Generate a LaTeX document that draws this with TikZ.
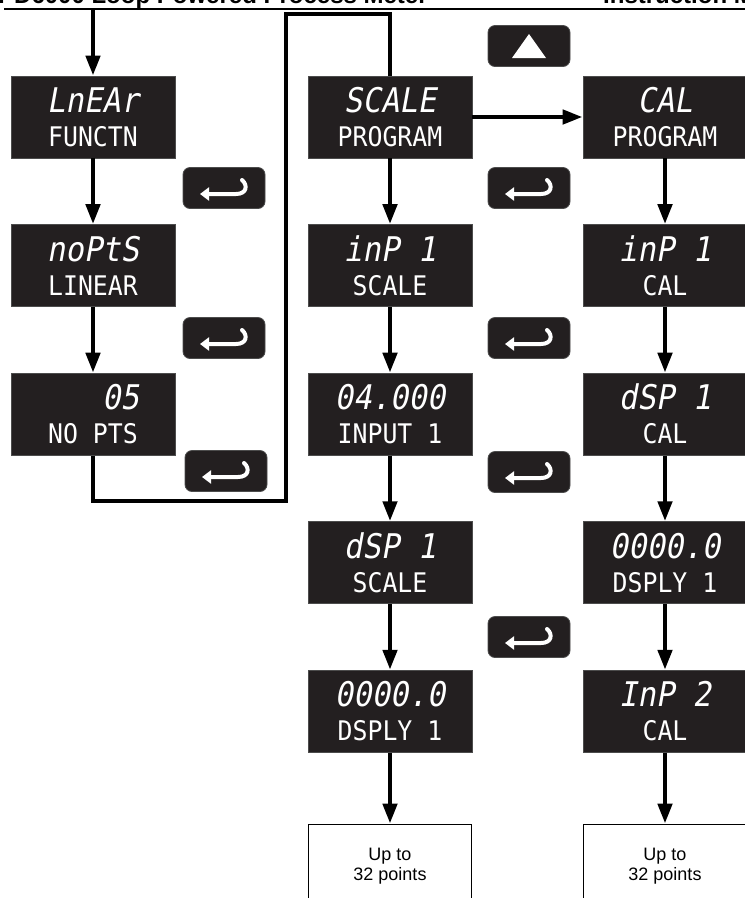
\documentclass[tikz,border=0pt]{standalone}
\usepackage{fontspec}
\usepackage{xcolor}
\usepackage{tikz}
\usetikzlibrary{arrows.meta,positioning}
\setmainfont{Liberation Sans}
\newfontfamily\segtop[FakeSlant=0.18,FakeStretch=0.9]{DejaVu Sans Mono}
\newfontfamily\segbot[FakeStretch=0.92]{DejaVu Sans Mono}
\definecolor{lcdbg}{HTML}{231F20}
\newcommand{\cellgap}{\phantom{0}}
\newcommand{\lcd}[2]{{\segtop\fontsize{34pt}{34pt}\selectfont #1}\\{\segbot #2}}

\begin{document}
\begin{tikzpicture}[x=1pt, y=-1pt,
  lcdbox/.style={fill=lcdbg, draw=black!70, line width=0.8pt, minimum width=164pt, minimum height=82pt, inner sep=0pt, text=white, align=center, font=\segbot\fontsize{27pt}{34pt}\selectfont},
  keybox/.style={fill=lcdbg, draw=black!70, line width=0.8pt, rounded corners=7pt, minimum width=82pt, minimum height=41pt},
  endbox/.style={draw, line width=1pt, minimum width=163pt, minimum height=84pt, align=center, font=\fontsize{18pt}{20pt}\selectfont},
  flow/.style={line width=4.5pt, -{Triangle[length=20pt,width=14pt]}},
  loopline/.style={line width=4.5pt},
  entersym/.style={white, line width=4pt, line cap=round, -{Triangle[length=9pt,width=13pt]}},
  node distance=65.75pt
]
\useasboundingbox (0,0) rectangle (745,898);
\clip (0,0) rectangle (745,898);

% page header
\node[anchor=base west, inner sep=0pt, font=\bfseries\fontsize{24pt}{24pt}\selectfont] (htitle) at (-2,3) {PD6000 Loop Powered Process Meter};
\node[anchor=base west, inner sep=0pt, font=\bfseries\fontsize{24pt}{24pt}\selectfont] (hmanual) at (603,3) {Instruction Manual};
\draw[line width=2.5pt] (4,9) -- (745,9);

% left column
\node[lcdbox] (lin) at (93,117) {\lcd{LnEAr}{FUNCTN}};
\node[lcdbox, below=of lin] (npts) {\lcd{noPtS}{LINEAR}};
\node[lcdbox, below=of npts] (nop) {\lcd{\cellgap\cellgap\cellgap05}{NO PTS}};

% scale column
\node[lcdbox] (scale) at (390,117) {\lcd{SCALE}{PROGRAM}};
\node[lcdbox, below=of scale] (inp1s) {\lcd{inP 1}{SCALE}};
\node[lcdbox, below=of inp1s] (val1) {\lcd{04.000}{INPUT 1}};
\node[lcdbox, below=of val1] (dsp1s) {\lcd{dSP 1}{SCALE}};
\node[lcdbox, below=of dsp1s] (dsly1s) {\lcd{0000.0}{DSPLY 1}};
\node[endbox, below=71pt of dsly1s] (send) {Up to\\32 points};

% cal column
\node[lcdbox] (cal) at (665,117) {\lcd{CAL}{PROGRAM}};
\node[lcdbox, below=of cal] (inp1c) {\lcd{inP 1}{CAL}};
\node[lcdbox, below=of inp1c] (dsp1c) {\lcd{dSP 1}{CAL}};
\node[lcdbox, below=of dsp1c] (dsly1c) {\lcd{0000.0}{DSPLY 1}};
\node[lcdbox, below=of dsly1c] (inp2c) {\lcd{InP 2}{CAL}};
\node[endbox, below=71pt of inp2c] (cend) {Up to\\32 points};

% keys
\node[keybox] (up) at (529,46) {};
\node[keybox] (k1) at (224,188) {};
\node[keybox] (k2) at (224,338) {};
\node[keybox] (k3) at (226,471) {};
\node[keybox] (k4) at (529,188) {};
\node[keybox] (k5) at (529,338) {};
\node[keybox] (k6) at (529,472) {};
\node[keybox] (k7) at (529,637) {};
\fill[white] ([shift={(0,-12)}]up.center) -- ([shift={(17,12)}]up.center) -- ([shift={(-17,12)}]up.center) -- cycle;
\foreach \k in {k1,k2,k3,k4,k5,k6,k7}
  \draw[entersym] ([shift={(18,-8)}]\k.center) .. controls ([shift={(24,-3)}]\k.center) and ([shift={(23,6)}]\k.center) .. ([shift={(12,6)}]\k.center) -- ([shift={(-24,6)}]\k.center);

% connectors
\coordinate (start) at (93,10);
\coordinate (lpb) at (286,501);
\coordinate (lpt) at (286,14);
\draw[flow] (start) -- (lin);
\draw[flow] (lin) -- (npts);
\draw[flow] (npts) -- (nop);
\draw[loopline] (nop.south) |- (lpb) -- (lpt) -| (scale.north);
\draw[flow] (scale) -- (cal);
\foreach \a/\b in {scale/inp1s, inp1s/val1, val1/dsp1s, dsp1s/dsly1s, dsly1s/send, cal/inp1c, inp1c/dsp1c, dsp1c/dsly1c, dsly1c/inp2c, inp2c/cend}
  \draw[flow] (\a) -- (\b);
\end{tikzpicture}
\end{document}
